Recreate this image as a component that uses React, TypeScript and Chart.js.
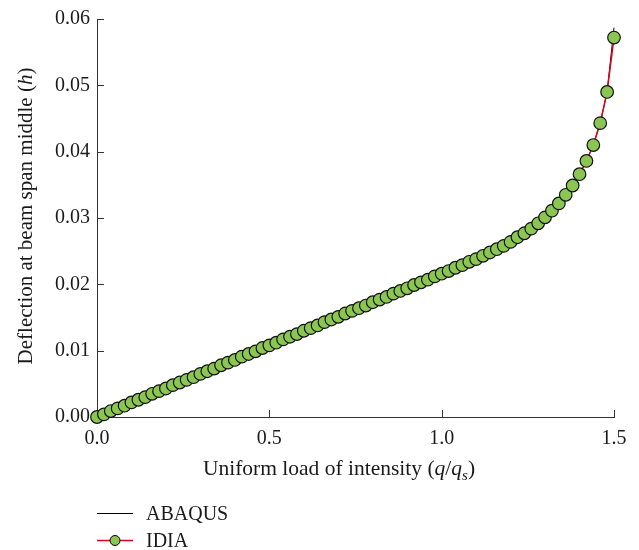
import React, { useEffect, useRef } from "react";
import { Chart, registerables } from "chart.js";

Chart.register(...registerables);

// Load ratio q/qs
const loadRatio = [
  0.0, 0.02, 0.04, 0.06, 0.08, 0.1, 0.12, 0.14, 0.16, 0.18,
  0.2, 0.22, 0.24, 0.26, 0.28, 0.3, 0.32, 0.34, 0.36, 0.38,
  0.4, 0.42, 0.44, 0.46, 0.48, 0.5, 0.52, 0.54, 0.56, 0.58,
  0.6, 0.62, 0.64, 0.66, 0.68, 0.7, 0.72, 0.74, 0.76, 0.78,
  0.8, 0.82, 0.84, 0.86, 0.88, 0.9, 0.92, 0.94, 0.96, 0.98,
  1.0, 1.02, 1.04, 1.06, 1.08, 1.1, 1.12, 1.14, 1.16, 1.18,
  1.2, 1.22, 1.24, 1.26, 1.28, 1.3, 1.32, 1.34, 1.36, 1.38,
  1.4, 1.42, 1.44, 1.46, 1.48, 1.5,
];

// IDIA deflection (h)
const idiaDeflection = [
  0.0, 0.0004, 0.0009, 0.0013, 0.0017, 0.0022, 0.0026, 0.003, 0.0035, 0.0039,
  0.0043, 0.0048, 0.0052, 0.0056, 0.006, 0.0065, 0.0069, 0.0073, 0.0078, 0.0082,
  0.0086, 0.0091, 0.0095, 0.0099, 0.0104, 0.0108, 0.0112, 0.0117, 0.0121, 0.0125,
  0.013, 0.0134, 0.0138, 0.0143, 0.0147, 0.0151, 0.0156, 0.016, 0.0164, 0.0168,
  0.0173, 0.0177, 0.0181, 0.0186, 0.019, 0.0194, 0.0199, 0.0203, 0.0207, 0.0212,
  0.0216, 0.022, 0.0225, 0.0229, 0.0234, 0.0238, 0.0243, 0.0248, 0.0253, 0.0258,
  0.0264, 0.0271, 0.0277, 0.0284, 0.0292, 0.0301, 0.0311, 0.0322, 0.0335, 0.0349,
  0.0366, 0.0386, 0.041, 0.0443, 0.049, 0.0572,
];

// ABAQUS deflection (h)
const abaqusDeflection = [
  0.0, 0.0004, 0.0009, 0.0013, 0.0017, 0.0022, 0.0026, 0.003, 0.0035, 0.0039,
  0.0043, 0.0048, 0.0052, 0.0056, 0.006, 0.0065, 0.0069, 0.0073, 0.0078, 0.0082,
  0.0086, 0.0091, 0.0095, 0.0099, 0.0104, 0.0108, 0.0112, 0.0117, 0.0121, 0.0125,
  0.013, 0.0134, 0.0138, 0.0143, 0.0147, 0.0151, 0.0156, 0.016, 0.0164, 0.0168,
  0.0173, 0.0177, 0.0181, 0.0186, 0.019, 0.0194, 0.0199, 0.0203, 0.0207, 0.0212,
  0.0216, 0.022, 0.0225, 0.0229, 0.0234, 0.0238, 0.0243, 0.0248, 0.0253, 0.0258,
  0.0264, 0.0271, 0.0277, 0.0284, 0.0292, 0.0301, 0.0311, 0.0322, 0.0335, 0.0349,
  0.0366, 0.0386, 0.041, 0.0443, 0.049, 0.0587,
];

const xTicks = [0.5, 1.0, 1.5];
const yTicks = [0.01, 0.02, 0.03, 0.04, 0.05, 0.06];

const FONT = '"Liberation Serif", "DejaVu Serif", serif';
const TEXT = "#1a1a1a";
const AXIS = "#333333";
const GREEN = "#8cc652";
const RED = "#e3001b";

type Run = { t: string; italic?: boolean; sub?: boolean };

function drawRuns(ctx: CanvasRenderingContext2D, runs: Run[], x: number, y: number, size: number, center: boolean) {
  const fontFor = (r: Run) =>
    `${r.italic ? "italic " : ""}${r.sub ? Math.round(size * 0.7) : size}px ${FONT}`;
  let total = 0;
  for (const r of runs) {
    ctx.font = fontFor(r);
    total += ctx.measureText(r.t).width;
  }
  let cx = center ? x - total / 2 : x;
  for (const r of runs) {
    ctx.font = fontFor(r);
    ctx.fillText(r.t, cx, r.sub ? y + size * 0.22 : y);
    cx += ctx.measureText(r.t).width;
  }
}

const decorPlugin = {
  id: "decor",
  afterDraw(chart: any) {
    const ctx: CanvasRenderingContext2D = chart.ctx;
    const xs = chart.scales.x;
    const ys = chart.scales.y;
    const area = chart.chartArea;
    ctx.save();
    // inward tick marks
    ctx.strokeStyle = AXIS;
    ctx.lineWidth = 1;
    ctx.beginPath();
    for (const v of xTicks) {
      const px = Math.round(xs.getPixelForValue(v)) + 0.5;
      ctx.moveTo(px, area.bottom);
      ctx.lineTo(px, area.bottom - 7);
    }
    for (const v of yTicks) {
      const py = Math.round(ys.getPixelForValue(v)) + 0.5;
      ctx.moveTo(area.left, py);
      ctx.lineTo(area.left + 7, py);
    }
    ctx.stroke();

    ctx.fillStyle = TEXT;
    ctx.textBaseline = "alphabetic";
    ctx.textAlign = "left";
    // x title
    drawRuns(
      ctx,
      [
        { t: "Uniform load of intensity (" },
        { t: "q", italic: true },
        { t: "/" },
        { t: "q", italic: true },
        { t: "s", italic: true, sub: true },
        { t: ")" },
      ],
      339,
      475,
      21.5,
      true
    );
    // y title
    ctx.save();
    ctx.translate(32, 216);
    ctx.rotate(-Math.PI / 2);
    drawRuns(
      ctx,
      [{ t: "Deflection at beam span middle (" }, { t: "h", italic: true }, { t: ")" }],
      0,
      0,
      21,
      true
    );
    ctx.restore();

    // legend
    const lx0 = 97;
    const lx1 = 133;
    const rows = [513, 540];
    ctx.lineWidth = 1.2;
    ctx.strokeStyle = "#000";
    ctx.beginPath();
    ctx.moveTo(lx0, rows[0] + 0.5);
    ctx.lineTo(lx1, rows[0] + 0.5);
    ctx.stroke();
    ctx.strokeStyle = RED;
    ctx.lineWidth = 1.5;
    ctx.beginPath();
    ctx.moveTo(lx0, rows[1] + 0.5);
    ctx.lineTo(lx1, rows[1] + 0.5);
    ctx.stroke();
    ctx.beginPath();
    ctx.arc((lx0 + lx1) / 2, rows[1] + 0.5, 5, 0, Math.PI * 2);
    ctx.fillStyle = GREEN;
    ctx.fill();
    ctx.strokeStyle = "#000";
    ctx.lineWidth = 1;
    ctx.stroke();
    ctx.fillStyle = TEXT;
    ctx.font = `20px ${FONT}`;
    ctx.fillText("ABAQUS", 146, rows[0] + 7);
    ctx.fillText("IDIA", 146, rows[1] + 7);
    ctx.restore();
  },
};

export default function App() {
  const ref = useRef<HTMLCanvasElement>(null);
  useEffect(() => {
    if (!ref.current) return;
    const chart = new Chart(ref.current, {
      type: "scatter",
      data: {
        datasets: [
          {
            label: "ABAQUS",
            data: loadRatio.map((x, i) => ({ x, y: abaqusDeflection[i] })),
            showLine: true,
            borderColor: "#000",
            borderWidth: 1,
            pointRadius: 0,
            order: 2,
            clip: false as any,
          },
          {
            label: "IDIA",
            data: loadRatio.map((x, i) => ({ x, y: idiaDeflection[i] })),
            showLine: true,
            borderColor: RED,
            borderWidth: 1.5,
            pointRadius: 6.3,
            pointBackgroundColor: GREEN,
            pointBorderColor: "#111",
            pointBorderWidth: 1.2,
            order: 1,
            clip: false as any,
          },
        ],
      },
      options: {
        animation: false,
        responsive: false,
        devicePixelRatio: 1,
        events: [],
        layout: { padding: { top: 17, right: 25, left: 0, bottom: 0 } },
        plugins: { legend: { display: false }, tooltip: { enabled: false } },
        scales: {
          x: {
            type: "linear",
            min: 0,
            max: 1.5,
            afterFit: (s: any) => {
              s.height = 133;
            },
            border: { display: true, color: AXIS, width: 1 },
            grid: { display: true, drawOnChartArea: false, drawTicks: false },
            ticks: {
              stepSize: 0.5,
              padding: 10,
              color: TEXT,
              font: { family: FONT, size: 20 },
              callback: (v: any) => Number(v).toFixed(1),
            },
          },
          y: {
            type: "linear",
            min: 0,
            max: 0.06,
            afterFit: (s: any) => {
              s.width = 97;
            },
            border: { display: true, color: AXIS, width: 1 },
            grid: { display: true, drawOnChartArea: false, drawTicks: false },
            ticks: {
              stepSize: 0.01,
              padding: 7,
              color: TEXT,
              font: { family: FONT, size: 20 },
              callback: (v: any) => Number(v).toFixed(2),
            },
          },
        },
      },
      plugins: [decorPlugin],
    });
    return () => chart.destroy();
  }, []);
  return (
    <div style={{ position: "fixed", left: 0, top: 0, width: 639, height: 550, background: "#fff" }}>
      <canvas ref={ref} width={639} height={550} />
    </div>
  );
}
